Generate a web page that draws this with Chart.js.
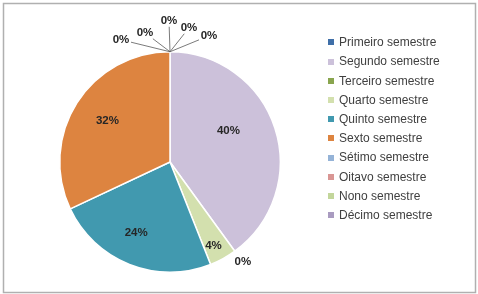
<!DOCTYPE html>
<html>
<head>
<meta charset="utf-8">
<script src="https://cdn.jsdelivr.net/npm/chart.js@4/dist/chart.umd.min.js"></script>
<style>
  html, body { margin: 0; padding: 0; background: #fff; }
  #caixa { width: 478px; height: 294px; }
</style>
</head>
<body>
<div id="caixa"><canvas id="grafico"></canvas></div>
<script>
const semestres = [
    'Primeiro semestre', 'Segundo semestre', 'Terceiro semestre', 'Quarto semestre',
    'Quinto semestre', 'Sexto semestre', 'Sétimo semestre', 'Oitavo semestre',
    'Nono semestre', 'Décimo semestre'
];
const porcentagens = [0, 40, 0, 4, 24, 32, 0, 0, 0, 0];
const cores = ['#3F6FA8', '#CCC1DA', '#89A54E', '#D3E0AE', '#4199AF',
               '#DD8440', '#95B3D7', '#D99694', '#C3D69B', '#A99BC0'];

// ajuste dos rótulos internos (graus, fração do raio)
const ajusteAngulo = [0, -10, 0, 1.5, 4, 1, 0, 0, 0, 0];
const ajusteRaio = [0, 0.6, 0, 0.86, 0.71, 0.68, 0, 0, 0, 0];
// deslocamento dos rótulos de 0% a partir da borda da fatia
const deslocZero = {
    0: [39, -16], 2: [8, 11], 6: [-49, -12], 7: [-25, -19], 8: [-1, -31], 9: [19, -24]
};

const fonteRotulo = 'bold 11.5px "Liberation Sans", Arial, sans-serif';
const fonteLegenda = '12px "Liberation Sans", Arial, sans-serif';

const rotulosPlugin = {
    id: 'rotulos',
    afterDatasetsDraw(chart) {
        const ctx = chart.ctx;
        const meta = chart.getDatasetMeta(0);
        ctx.save();
        ctx.font = fonteRotulo;
        ctx.fillStyle = '#262626';
        ctx.textAlign = 'center';
        ctx.textBaseline = 'middle';
        meta.data.forEach((arc, i) => {
            const p = arc.getProps(['x', 'y', 'startAngle', 'endAngle', 'outerRadius'], true);
            const meio = (p.startAngle + p.endAngle) / 2;
            const valor = porcentagens[i];
            if (valor > 0) {
                const a = meio + ajusteAngulo[i] * Math.PI / 180;
                const r = p.outerRadius * ajusteRaio[i];
                ctx.fillText(valor + '%', p.x + r * Math.cos(a), p.y + r * Math.sin(a));
            } else {
                const ex = p.x + p.outerRadius * Math.cos(meio);
                const ey = p.y + p.outerRadius * Math.sin(meio);
                const d = deslocZero[i] || [0, -20];
                const lx = ex + d[0], ly = ey + d[1];
                const ux = ex - lx, uy = ey - ly;
                const dist = Math.hypot(ux, uy);
                if (dist > 18) {
                    const t = Math.min(10 / Math.abs(ux || 1e-6), 6 / Math.abs(uy || 1e-6));
                    ctx.beginPath();
                    ctx.strokeStyle = '#595959';
                    ctx.lineWidth = 0.8;
                    ctx.moveTo(ex, ey);
                    ctx.lineTo(lx + ux * t, ly + uy * t);
                    ctx.stroke();
                }
                ctx.fillText(valor + '%', lx, ly);
            }
        });
        ctx.restore();
    },
    afterDraw(chart) {
        const ctx = chart.ctx;
        ctx.save();
        // legenda
        ctx.font = fonteLegenda;
        ctx.textBaseline = 'middle';
        ctx.textAlign = 'left';
        semestres.forEach((nome, i) => {
            const y = 42.3 + i * 19.2;
            ctx.fillStyle = cores[i];
            ctx.fillRect(328, Math.round(y - 3), 6, 6);
            ctx.fillStyle = '#404040';
            ctx.fillText(nome, 339, y + 0.5);
        });
        // moldura
        ctx.strokeStyle = '#b0b0b0';
        ctx.lineWidth = 1.5;
        ctx.strokeRect(3.5, 3.5, 472, 289);
        ctx.restore();
    }
};

new Chart(document.getElementById('grafico').getContext('2d'), {
    type: 'pie',
    data: {
        labels: semestres,
        datasets: [{
            data: porcentagens,
            backgroundColor: cores,
            borderColor: '#ffffff',
            borderWidth: 1.5
        }]
    },
    options: {
        responsive: true,
        maintainAspectRatio: false,
        animation: false,
        layout: { padding: { left: 59, right: 197, top: 51, bottom: 21 } },
        plugins: {
            legend: { display: false },
            tooltip: { enabled: false }
        }
    },
    plugins: [rotulosPlugin]
});
</script>
</body>
</html>
